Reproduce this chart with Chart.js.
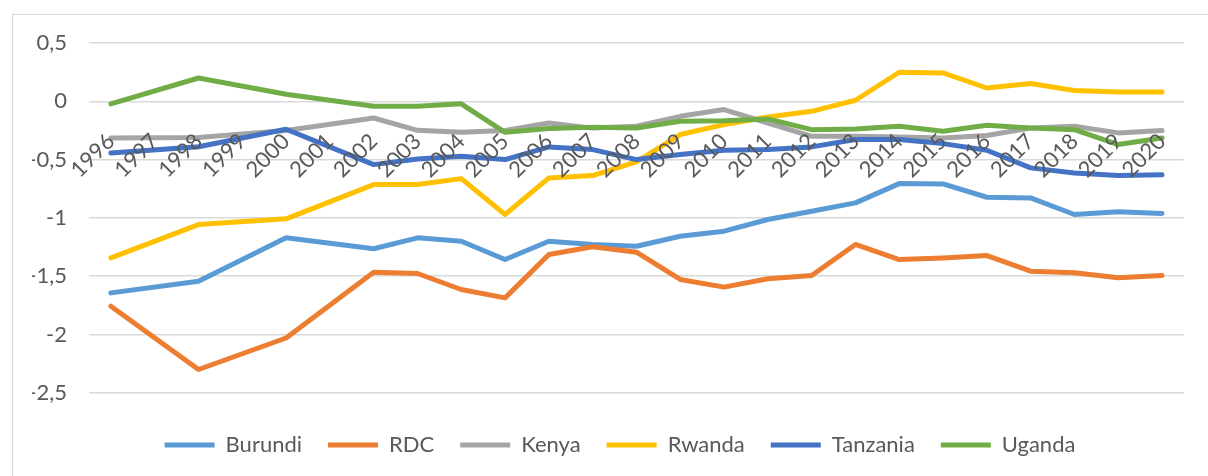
<!DOCTYPE html>
<html>
<head>
<meta charset="utf-8">
<script src="https://cdn.jsdelivr.net/npm/chart.js@4.4.1/dist/chart.umd.min.js"></script>
<style>
  html, body { margin: 0; padding: 0; background: #ffffff; overflow: hidden; }
  #wrap { position: relative; width: 1208px; height: 476px; }
  #frame { position: absolute; left: 12px; top: 14px; width: 1300px; height: 600px;
           border: 1px solid #d9d9d9; box-sizing: border-box; pointer-events: none; }
  canvas { position: absolute; left: 0; top: 0; }
</style>
</head>
<body>
<div id="wrap">
  <canvas id="c" width="1208" height="476"></canvas>
  <div id="frame"></div>
</div>
<script>
const years = ['1996','1997','1998','1999','2000','2001','2002','2003','2004','2005','2006','2007','2008','2009','2010','2011','2012','2013','2014','2015','2016','2017','2018','2019','2020'];

const burundi  = [-1.643, null, -1.543, null, -1.17, null, -1.265, -1.171, -1.2, -1.357, -1.2, -1.228, -1.243, -1.157, -1.114, -1.014, -0.943, -0.871, -0.706, -0.709, -0.823, -0.829, -0.971, -0.948, -0.962];
const rdc      = [-1.757, null, -2.30, null, -2.03, null, -1.466, -1.477, -1.614, -1.686, -1.314, -1.248, -1.294, -1.528, -1.594, -1.522, -1.494, -1.228, -1.357, -1.343, -1.323, -1.457, -1.471, -1.514, -1.494];
const kenya    = [-0.314, null, -0.31, null, -0.25, null, -0.143, -0.249, -0.266, -0.251, -0.186, -0.23, -0.214, -0.129, -0.071, -0.186, -0.3, -0.3, -0.306, -0.314, -0.294, -0.229, -0.214, -0.271, -0.251];
const rwanda   = [-1.343, null, -1.057, null, -1.008, null, -0.714, -0.714, -0.663, -0.971, -0.657, -0.637, -0.52, -0.285, -0.2, -0.134, -0.086, 0.009, 0.249, 0.243, 0.114, 0.152, 0.092, 0.08, 0.08];
const tanzania = [-0.443, null, -0.39, null, -0.24, null, -0.543, -0.494, -0.471, -0.5, -0.391, -0.414, -0.5, -0.457, -0.42, -0.414, -0.391, -0.328, -0.328, -0.363, -0.42, -0.571, -0.614, -0.637, -0.631];
const uganda   = [-0.022, null, 0.20, null, 0.06, null, -0.043, -0.043, -0.022, -0.266, -0.234, -0.223, -0.229, -0.171, -0.166, -0.151, -0.243, -0.237, -0.214, -0.257, -0.206, -0.229, -0.243, -0.371, -0.314];

const seriesNames  = ['Burundi', 'RDC', 'Kenya', 'Rwanda', 'Tanzania', 'Uganda'];
const seriesValues = [burundi, rdc, kenya, rwanda, tanzania, uganda];
const seriesColors = ['#5B9BD5', '#ED7D31', '#A5A5A5', '#FFC000', '#4472C4', '#70AD47'];

const yMin = -2.5, yMax = 0.5, yStep = 0.5;

const FONT = 'Lato';
const TXT = '#595959';

const datasets = seriesNames.map((name, i) => ({
  label: name,
  data: seriesValues[i],
  borderColor: seriesColors[i],
  backgroundColor: seriesColors[i],
  borderWidth: 5,
  borderCapStyle: 'round',
  borderJoinStyle: 'round',
  pointRadius: 0,
  pointHoverRadius: 0,
  tension: 0,
  spanGaps: true,
  order: seriesNames.length - i
}));

const LEFT_PAD = 32;

new Chart(document.getElementById('c'), {
  type: 'line',
  data: { labels: years, datasets },
  options: {
    responsive: false,
    animation: false,
    events: [],
    layout: { padding: { left: LEFT_PAD, right: 0, top: 43, bottom: 10 } },
    scales: {
      x: {
        type: 'category',
        position: { y: 0 },
        offset: true,
        grid: { display: false, drawTicks: false },
        border: { display: false },
        ticks: {
          z: 1,
          autoSkip: false,
          maxRotation: 45,
          minRotation: 45,
          padding: 27,
          color: TXT,
          font: { family: FONT, size: 22 }
        }
      },
      y: {
        min: yMin,
        max: yMax,
        afterFit: (s) => { s.width = 89 - LEFT_PAD; },
        grid: { color: '#d9d9d9', lineWidth: 1.5, drawTicks: false },
        border: { display: false },
        ticks: {
          stepSize: yStep,
          padding: 22,
          color: TXT,
          font: { family: FONT, size: 22 },
          callback: (v) => String(v).replace('.', ',')
        }
      },
      yRight: {
        type: 'linear',
        position: 'right',
        afterFit: (s) => { s.width = 16; },
        grid: { display: false, drawTicks: false },
        border: { display: false },
        ticks: { display: false }
      }
    },
    plugins: {
      tooltip: { enabled: false },
      legend: {
        position: 'bottom',
        title: { display: true, text: '', padding: { top: 14, bottom: 0 }, font: { size: 1 } },
        labels: {
          usePointStyle: true,
          pointStyle: 'line',
          pointStyleWidth: 50,
          padding: 26,
          color: TXT,
          font: { family: FONT, size: 22 },
          sort: (a, b) => a.datasetIndex - b.datasetIndex
        }
      }
    }
  }
});
</script>
</body>
</html>
